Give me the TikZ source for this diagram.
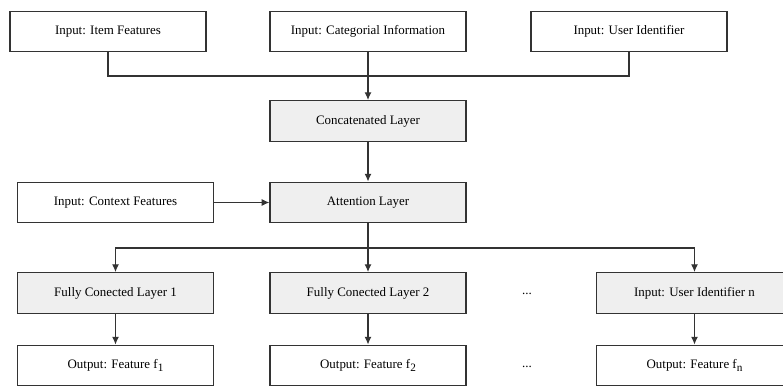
\documentclass[tikz,border=0pt]{standalone}
\usepackage{fontspec}
\setmainfont{Liberation Serif}
\usepackage{xcolor}
\usetikzlibrary{arrows.meta}

\definecolor{boxline}{HTML}{333333}
\definecolor{layerfill}{HTML}{EFEFEF}
\newcommand{\sub}[1]{\raisebox{-0.4ex}{\fontsize{8}{9}\selectfont #1}}

\begin{document}
\begin{tikzpicture}[x=0.025cm,y=-0.025cm,
  box/.style={draw=boxline,line width=0.8pt,fill=white,minimum width=4.9cm,minimum height=1.02cm,inner sep=0pt,font=\fontsize{9.2}{11}\selectfont},
  layer/.style={box,fill=layerfill},
  arr/.style={draw=boxline,line width=0.8pt,-{Latex[length=5.5pt,width=5pt]}},
  line/.style={draw=boxline,line width=0.8pt}]
\useasboundingbox (0,0) rectangle (783,386);
\clip (0,0) rectangle (783,386);

\node[box] (item) at (108,31.5) {Input: Item Features};
\node[box] (cat) at (368,31.5) {Input: Categorial Information};
\node[box] (user) at (629,31.5) {Input: User Identifier};
\coordinate (join) at (368,76);

\node[layer] (concat) at (368,121) {Concatenated Layer};
\node[layer] (attn) at (368,202.5) {Attention Layer};
\node[box] (ctx) at (115.5,202.5) {Input: Context Features};
\coordinate (split) at (368,248);

\node[layer] (fc1) at (115.5,293) {Fully Conected Layer 1};
\node[layer] (fc2) at (368,293) {Fully Conected Layer 2};
\node[layer] (fcn) at (694.5,293) {Input: User Identifier n};
\node[box] (out1) at (115.5,365.5) {Output: Feature f\sub{1}};
\node[box] (out2) at (368,365.5) {Output: Feature f\sub{2}};
\node[box] (outn) at (694.5,365.5) {Output: Feature f\sub{n}};
\node[font=\fontsize{9.2}{11}\selectfont] (dots1) at (527,294) {...};
\node[font=\fontsize{9.2}{11}\selectfont] (dots2) at (527,367) {...};

\path[line] (item.south) |- (join) -| (user.south);
\path[arr] (cat.south) -- (concat.north);
\path[arr] (concat.south) -- (attn.north);
\path[arr] (ctx.east) -- (attn.west);
\path[arr] (attn.south) -- (fc2.north);
\path[arr] (split) -| (fc1.north);
\path[arr] (split) -| (fcn.north);
\path[arr] (fc1.south) -- (out1.north);
\path[arr] (fc2.south) -- (out2.north);
\path[arr] (fcn.south) -- (outn.north);
\end{tikzpicture}
\end{document}
